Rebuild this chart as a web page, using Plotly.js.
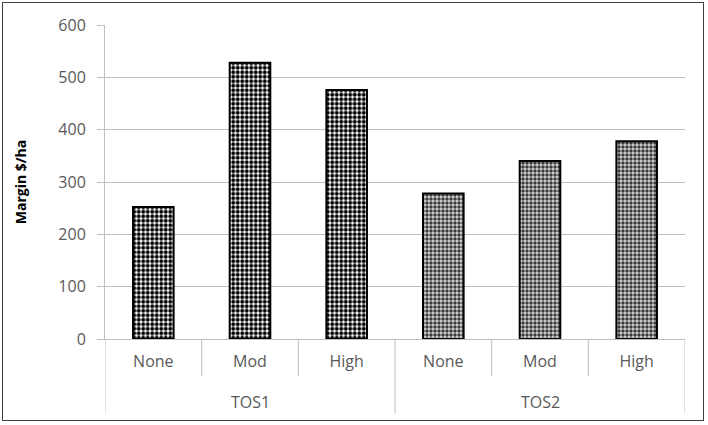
<!DOCTYPE html>
<html>
<head>
<meta charset="utf-8">
<script src="https://cdn.plot.ly/plotly-3.0.1.min.js"></script>
<style>
html,body{margin:0;padding:0;background:#fff;}
#wrap{position:absolute;left:2px;top:2px;width:702px;height:419px;border:1px solid #404040;box-sizing:border-box;}
#chart{width:700px;height:417px;}
</style>
</head>
<body>
<div id="wrap"><div id="chart"></div></div>
<script>
var groups = ["TOS1","TOS1","TOS1","TOS2","TOS2","TOS2"];
var levels = ["None","Mod","High","None","Mod","High"];
var margin = [252, 528, 476, 278, 340, 378];
var patFg = ["#000000","#000000","#000000","#3c3c3c","#3c3c3c","#3c3c3c"];
var patBg = ["#ffffff","#ffffff","#ffffff","#d8d8d8","#d8d8d8","#d8d8d8"];
var patSize = [4.5,4.5,4.5,4,4,4];

var idx = levels.map(function(_, i){ return i; });

var trace = {
  type: "bar",
  x: idx,
  y: margin,
  width: 0.42,
  marker: {
    color: "#ffffff",
    line: {color: "#000000", width: 2},
    pattern: {shape: ".", fgcolor: patFg, bgcolor: patBg, size: patSize, solidity: 0.6, fillmode: "replace"}
  },
  hoverinfo: "y"
};

var gridC = "#bfbfbf";
var innerLen = 37 / 314, outerLen = 74 / 314;
var shapes = [];
var annotations = [];
// category boundaries
for (var i = 0; i <= levels.length; i++) {
  var isGroupEdge = (i === 0 || i === levels.length || groups[i] !== groups[i - 1]);
  shapes.push({type: "line", xref: "x", yref: "paper", x0: i - 0.5, x1: i - 0.5,
    y0: 0, y1: -(isGroupEdge ? outerLen : innerLen), line: {color: gridC, width: 1}});
}
// group labels
var start = 0;
for (var j = 1; j <= groups.length; j++) {
  if (j === groups.length || groups[j] !== groups[start]) {
    annotations.push({xref: "x", yref: "paper", x: (start + j - 1) / 2, y: -63 / 314,
      text: groups[start], showarrow: false, xanchor: "center", yanchor: "middle",
      font: {family: "Open Sans, sans-serif", size: 16, color: "#595959"}});
    start = j;
  }
}

var layout = {
  width: 700, height: 417,
  margin: {l: 102, r: 18, t: 22, b: 81},
  paper_bgcolor: "#ffffff",
  plot_bgcolor: "#ffffff",
  showlegend: false,
  font: {family: "Open Sans, sans-serif", color: "#595959", size: 16},
  shapes: shapes,
  annotations: annotations,
  xaxis: {
    type: "linear",
    range: [-0.5, levels.length - 0.5],
    tickvals: idx, ticktext: levels,
    showgrid: false, zeroline: false,
    showline: true, linecolor: gridC, linewidth: 1,
    ticks: "",
    ticklabelstandoff: 8,
    tickfont: {family: "Open Sans, sans-serif", size: 16, color: "#595959"},
    automargin: false
  },
  yaxis: {
    range: [0, 600], dtick: 100, tick0: 0,
    showgrid: true, gridcolor: gridC, gridwidth: 1,
    zeroline: false,
    showline: true, linecolor: gridC, linewidth: 1,
    ticks: "outside", ticklen: 7, tickcolor: gridC,
    ticklabelstandoff: 8,
    tickfont: {family: "Open Sans, sans-serif", size: 16, color: "#595959"},
    title: {text: "<b>Margin $/ha</b>", font: {family: "Open Sans, sans-serif", size: 14, color: "#000000"}, standoff: 28},
    automargin: false
  }
};

Plotly.newPlot("chart", [trace], layout, {displayModeBar: false, staticPlot: true});
</script>
</body>
</html>
